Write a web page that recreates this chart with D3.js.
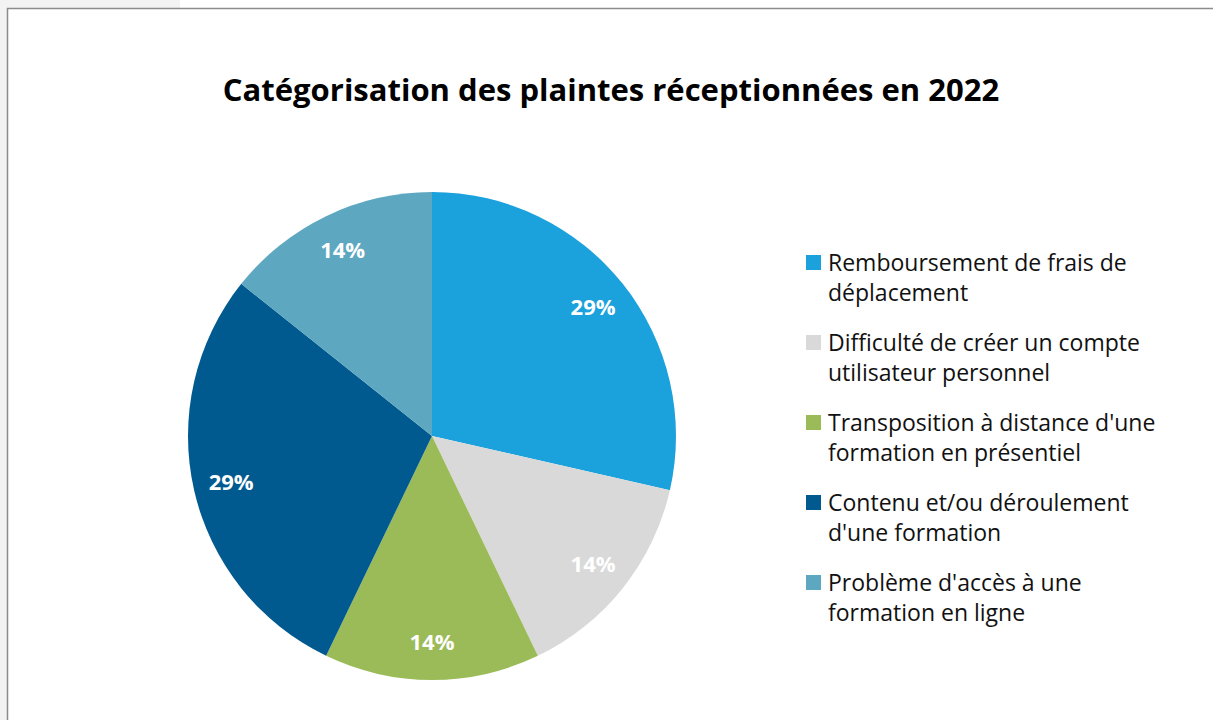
<!DOCTYPE html>
<html>
<head>
<meta charset="utf-8">
<script src="https://cdn.jsdelivr.net/npm/d3@7"></script>
<style>
  body { margin: 0; background: #fff; }
  svg { display: block; }
</style>
</head>
<body>
<div class="visual"></div>
<script>
const title = "Catégorisation des plaintes réceptionnées en 2022";

const categories = [
    ["Remboursement de frais de", "déplacement"],
    ["Difficulté de créer un compte", "utilisateur personnel"],
    ["Transposition à distance d'une", "formation en présentiel"],
    ["Contenu et/ou déroulement", "d'une formation"],
    ["Problème d'accès à une", "formation en ligne"]
];

// nombre de plaintes par catégorie (7 au total)
const counts = [2, 1, 1, 2, 1];

const colors = ["#1BA1DC", "#D9D9D9", "#9BBB59", "#005A8F", "#5DA7C0"];

const width = 1213;
const height = 720;

function display() {
    const svg = d3.select(".visual")
        .append("svg")
        .attr("width", width)
        .attr("height", height);

    // fond gris autour du cadre
    svg.append("rect").attr("x", 0).attr("y", 0).attr("width", 180).attr("height", 8).attr("fill", "#f3f3f3");
    svg.append("rect").attr("x", 0).attr("y", 0).attr("width", 7).attr("height", height).attr("fill", "#f3f3f3");

    svg.append("rect")
        .attr("x", 7.5)
        .attr("y", 8.5)
        .attr("width", width + 20)
        .attr("height", height + 20)
        .attr("fill", "#fff")
        .attr("stroke", "#8c8c8c")
        .attr("stroke-width", 1.5);

    svg.append("text")
        .attr("x", 611)
        .attr("y", 101)
        .attr("text-anchor", "middle")
        .style("font-family", "'Open Sans', sans-serif")
        .style("font-size", "31px")
        .style("font-weight", "bold")
        .style("fill", "#000")
        .text(title);

    const cx = 432, cy = 436, radius = 244;

    const pie = d3.pie().sort(null).value(d => d);
    const arcs = pie(counts);
    const total = d3.sum(counts);

    const arc = d3.arc().innerRadius(0).outerRadius(radius);
    const labelArc = d3.arc().innerRadius(206).outerRadius(206);

    const g = svg.append("g")
        .attr("transform", `translate(${cx}, ${cy})`);

    g.selectAll("path")
        .data(arcs)
        .enter()
        .append("path")
        .attr("d", arc)
        .attr("fill", (d, i) => colors[i]);

    g.selectAll("text")
        .data(arcs)
        .enter()
        .append("text")
        .attr("transform", d => `translate(${labelArc.centroid(d)})`)
        .attr("text-anchor", "middle")
        .attr("dy", "0.36em")
        .style("font-family", "'Open Sans', sans-serif")
        .style("font-size", "22px")
        .style("font-weight", "bold")
        .style("fill", "#fff")
        .text(d => Math.round(d.data / total * 100) + "%");

    const legend = svg.append("g")
        .attr("transform", "translate(806, 255)");

    const items = legend.selectAll("g")
        .data(categories)
        .enter()
        .append("g")
        .attr("transform", (d, i) => `translate(0, ${i * 80})`);

    items.append("rect")
        .attr("width", 15)
        .attr("height", 15)
        .attr("fill", (d, i) => colors[i]);

    items.append("text")
        .attr("x", 22)
        .attr("y", 16)
        .style("font-family", "'Open Sans', sans-serif")
        .style("font-size", "23px")
        .style("fill", "#111")
        .selectAll("tspan")
        .data(d => d)
        .enter()
        .append("tspan")
        .attr("x", 22)
        .attr("dy", (d, i) => i === 0 ? 0 : 30)
        .text(d => d);
}

window.onload = function() {
    display();
};
</script>
</body>
</html>
